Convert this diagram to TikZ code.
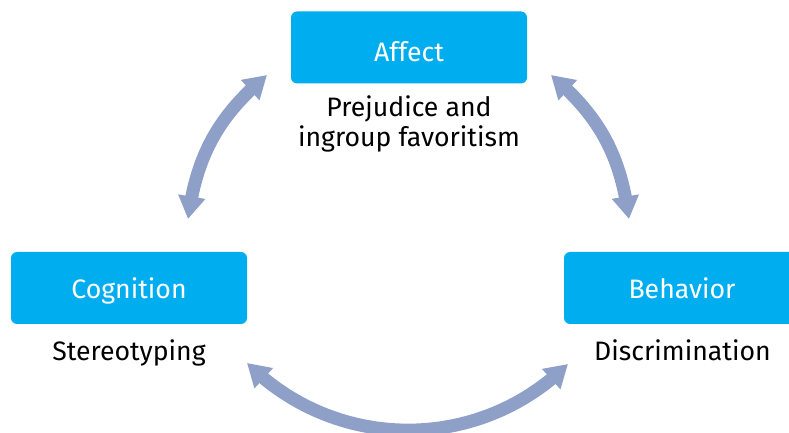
\documentclass[tikz,border=0pt]{standalone}
\usepackage{fontspec}
\setmainfont{Fira Sans}
\usetikzlibrary{arrows.meta,bending}
\definecolor{boxcyan}{RGB}{0,174,239}
\definecolor{arrowblue}{RGB}{143,160,200}

\begin{document}
\begin{tikzpicture}[x=0.75pt,y=0.75pt,
  box/.style={fill=boxcyan,rounded corners=4.5pt,minimum width=177pt,minimum height=54pt,
    text height=16.5pt,text depth=0pt,text=white,font=\fontsize{20}{22.5}\selectfont},
  tag/.style={align=center,font=\fontsize{20}{22.5}\selectfont},
  cyc/.style={line width=9.75pt,draw=arrowblue,
    {Triangle[width=19.5pt,length=17pt]}-{Triangle[width=19.5pt,length=17pt]}}]
\clip (0,0) rectangle (789,432);
% \draw[help lines,step=50] (0,0) grid (789,432);
\node (affect) [box,text height=21.3pt] at (409,384.5) {Affect};
\node (cognition) [box] at (129,144) {Cognition};
\node (behavior) [box] at (682,144) {Behavior};
%
\node (prejudice) [tag,anchor=base] at (409,285) {Prejudice and\\ingroup favoritism};
\node (stereo) [tag,anchor=base] at (129,71.5) {Stereotyping};
\node (discrim) [tag,anchor=base] at (682.5,71.5) {Discrimination};
%
\coordinate (c1) at (188,213);
\coordinate (a1) at (267,357);
\coordinate (a2) at (551,357);
\coordinate (b1) at (629,213);
\coordinate (b2) at (568,68);
\coordinate (c2) at (247,69);
%
\draw[cyc] (c1) to[bend left=21] (a1);
\draw[cyc] (a2) to[bend left=21] (b1);
\draw[cyc] (b2) to[bend left=45] (c2);
\end{tikzpicture}
\end{document}
